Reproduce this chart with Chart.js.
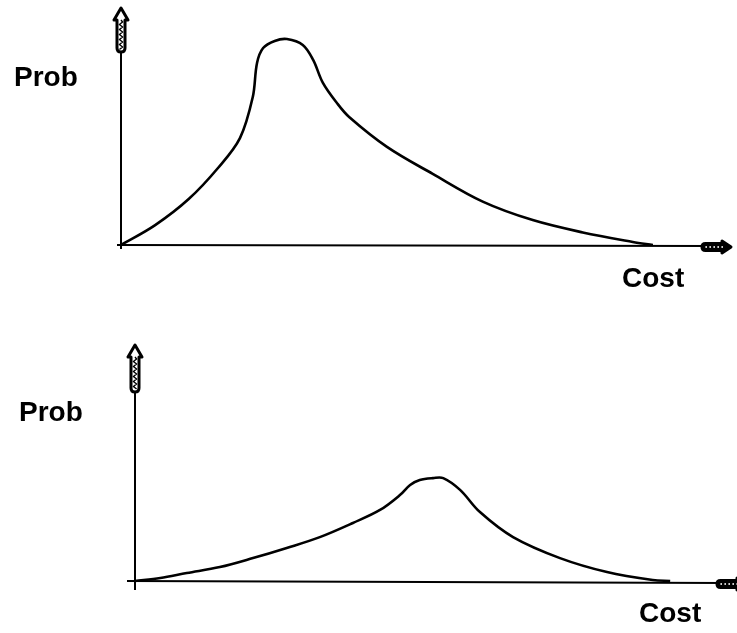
<!DOCTYPE html>
<html>
<head>
<meta charset="utf-8">
<script src="https://cdn.jsdelivr.net/npm/chart.js@4.4.1/dist/chart.umd.min.js"></script>
<style>
  html, body { margin: 0; padding: 0; background: #fff; }
  body { width: 737px; height: 633px; position: relative; overflow: hidden; }
  canvas { position: absolute; left: 0; }
  #upper { top: 0; }
  #lower { top: 310px; }
</style>
</head>
<body>
<canvas id="upper" width="737" height="300"></canvas>
<canvas id="lower" width="737" height="323"></canvas>
<script>
// Cost (x) and probability (y) samples for the two distributions, arbitrary units 0..100
const upperCost = [0, 5.6, 11.1, 15.9, 19.5, 21.6, 22.3, 23.3, 25.2, 27.2, 29.8, 31.5, 33.1, 35.4, 37.4, 43.6, 51.1, 59.3, 67.5, 75.7, 83.9, 87.2];
const upperProb = [0, 8.4, 19.4, 32.5, 45.1, 62.4, 76.8, 83.1, 86.1, 86.9, 84.4, 78.1, 68.4, 59.9, 54.0, 41.4, 30.0, 18.3, 10.5, 5.3, 1.3, 0];

const lowerCost = [0, 4.2, 8.6, 14.1, 19.6, 25.2, 30.7, 36.2, 40.7, 44.0, 45.7, 47.3, 49.5, 51.2, 54.0, 57.3, 62.8, 70.6, 78.4, 86.0, 88.9];
const lowerProb = [0, 1.3, 3.4, 5.9, 9.7, 14.0, 18.6, 24.6, 30.1, 36.4, 40.7, 42.8, 43.6, 43.6, 38.6, 29.2, 18.6, 9.7, 3.8, 0.4, 0];

const yAxisLabel = 'Prob';
const xAxisLabel = 'Cost';

function toPoints(xs, ys) {
  return xs.map((x, i) => ({ x: x, y: ys[i] }));
}

// Block arrow with a patterned interior; "dark" gives a heavy black body with white dots
function drawArrow(ctx, tipX, tipY, dir, len, headLen, headHalf, bodyHalf, dark) {
  ctx.save();
  ctx.translate(tipX, tipY);
  if (dir === 'right') ctx.rotate(Math.PI / 2);
  // local frame: tip at (0,0), arrow points to -y
  ctx.beginPath();
  ctx.moveTo(0, 0);
  ctx.lineTo(headHalf, headLen);
  ctx.lineTo(bodyHalf, headLen);
  ctx.lineTo(bodyHalf, len - bodyHalf);
  ctx.quadraticCurveTo(bodyHalf, len, 0, len);
  ctx.quadraticCurveTo(-bodyHalf, len, -bodyHalf, len - bodyHalf);
  ctx.lineTo(-bodyHalf, headLen);
  ctx.lineTo(-headHalf, headLen);
  ctx.closePath();
  ctx.fillStyle = dark ? '#000' : '#fff';
  ctx.fill();
  ctx.lineWidth = 3;
  ctx.lineJoin = 'round';
  ctx.strokeStyle = '#000';
  ctx.stroke();
  if (dark) {
    ctx.fillStyle = '#fff';
    for (let y = headLen - 1; y < len - 3; y += 4) {
      ctx.fillRect(-0.8, y, 1.6, 1.6);
    }
  } else {
    ctx.strokeStyle = '#000';
    ctx.lineWidth = 1.4;
    ctx.beginPath();
    let side = 1;
    ctx.moveTo(0, headLen);
    for (let y = headLen + 2; y < len - 2; y += 2.5) {
      ctx.lineTo(side * 1.6, y);
      side = -side;
    }
    ctx.stroke();
  }
  ctx.restore();
}

const axisArrows = {
  id: 'axisArrows',
  afterDatasetsDraw(chart, args, opts) {
    const ctx = chart.ctx;
    const a = chart.chartArea;
    ctx.save();
    ctx.strokeStyle = '#000';
    ctx.lineWidth = 2;
    ctx.lineCap = 'butt';
    // vertical axis
    ctx.beginPath();
    ctx.moveTo(a.left, a.bottom + opts.yBelow);
    ctx.lineTo(a.left, a.top + 20);
    ctx.stroke();
    // horizontal axis
    ctx.beginPath();
    ctx.moveTo(a.left - opts.xBefore, a.bottom);
    ctx.lineTo(a.right + opts.xOver - 20, a.bottom + opts.xTilt);
    ctx.stroke();
    ctx.restore();

    drawArrow(ctx, a.left, a.top, 'up', opts.yArrowLen, 12, 7, 4, false);
    drawArrow(ctx, a.right + opts.xOver, a.bottom + opts.xTilt + 1, 'right', 29, 9, 6, 3.5, true);

    ctx.save();
    ctx.fillStyle = '#000';
    ctx.font = 'bold 28px "Liberation Sans", Arial, sans-serif';
    ctx.textBaseline = 'middle';
    ctx.textAlign = 'left';
    ctx.fillText(yAxisLabel, opts.probX, opts.probY);
    ctx.fillText(xAxisLabel, opts.costX, opts.costY);
    ctx.restore();
  }
};

function makeChart(id, xs, ys, pad, opts) {
  return new Chart(document.getElementById(id), {
    type: 'line',
    data: {
      datasets: [{
        data: toPoints(xs, ys),
        borderColor: '#000',
        borderWidth: 2.6,
        pointRadius: 0,
        fill: false,
        tension: 0.35,
        clip: 6
      }]
    },
    options: {
      responsive: false,
      animation: false,
      devicePixelRatio: 1,
      layout: { padding: pad },
      plugins: {
        legend: { display: false },
        tooltip: { enabled: false },
        axisArrows: opts
      },
      scales: {
        x: { type: 'linear', min: 0, max: 100, display: false },
        y: { type: 'linear', min: 0, max: 100, display: false }
      }
    },
    plugins: [axisArrows]
  });
}

makeChart('upper', upperCost, upperProb,
  { left: 121, right: 6, top: 8, bottom: 55 },
  { yBelow: 4, xBefore: 4, xOver: 0, xTilt: 1, yArrowLen: 44,
    probX: 14, probY: 78, costX: 622, costY: 279 });

makeChart('lower', lowerCost, lowerProb,
  { left: 135, right: 0, top: 35, bottom: 52 },
  { yBelow: 9, xBefore: 8, xOver: 9, xTilt: 2, yArrowLen: 47,
    probX: 19, probY: 103, costX: 639, costY: 304 });
</script>
</body>
</html>
